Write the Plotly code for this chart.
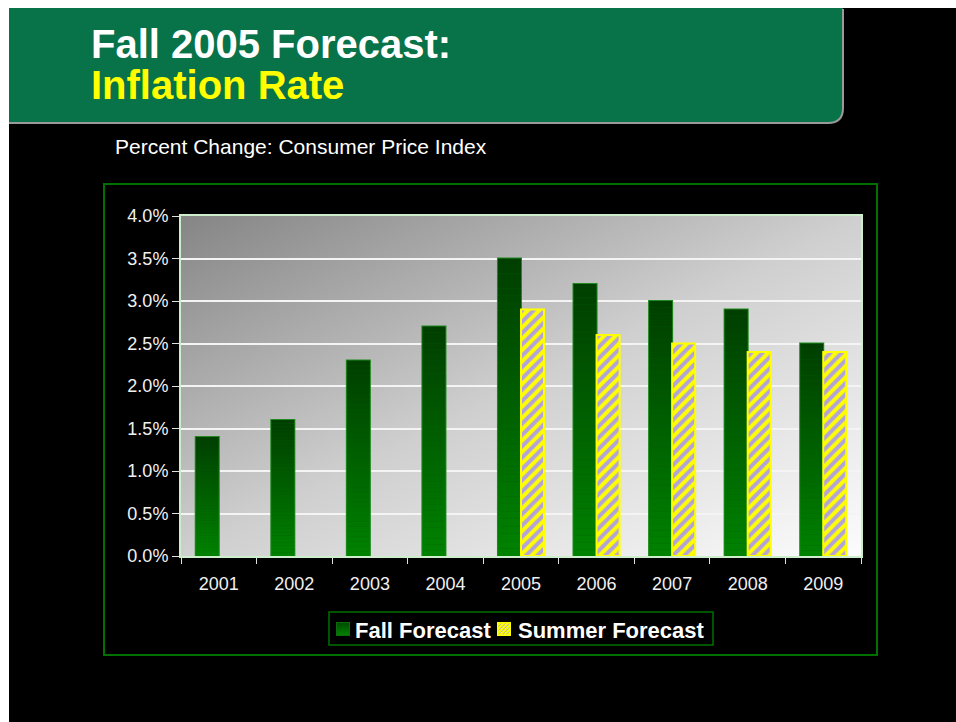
import base64
import plotly.graph_objects as go

# Consumer price index, percent change
years = ["2001", "2002", "2003", "2004", "2005", "2006", "2007", "2008", "2009"]
fall_forecast = [1.4, 1.6, 2.3, 2.7, 3.5, 3.2, 3.0, 2.9, 2.5]
summer_forecast = [None, None, None, None, 2.9, 2.6, 2.5, 2.4, 2.4]
series_names = ["Fall Forecast", "Summer Forecast"]
y_ticks = [0.0, 0.5, 1.0, 1.5, 2.0, 2.5, 3.0, 3.5, 4.0]
y_tick_labels = ["0.0%", "0.5%", "1.0%", "1.5%", "2.0%", "2.5%", "3.0%", "3.5%", "4.0%"]

FONT = "Liberation Sans, Arial, sans-serif"

# Plot-area geometry in page pixels (used for margins and for placing decorations)
W, H = 956, 722
PL, PR, PT, PB = 181, 861, 216, 556


def px(x):
    return (x - PL) / (PR - PL)


def py(y):
    return (PB - y) / (PB - PT)


def lerp_color(c0, c1, t):
    return "rgb({},{},{})".format(*[round(a + (b - a) * t) for a, b in zip(c0, c1)])


def svg_uri(svg):
    return "data:image/svg+xml;base64," + base64.b64encode(svg.encode()).decode()


LAVENDER = "#b2a2dc"
YELLOW = "#ffff00"

fig = go.Figure()

# Fall forecast: solid base bar (carries the outline)
fig.add_trace(go.Bar(
    x=years, y=fall_forecast, name=series_names[0], offsetgroup="fall",
    marker=dict(color="#006000", line=dict(color="#1f8a1f", width=2)),
    showlegend=False, hoverinfo="skip",
))

# Vertical gradient inside each fall bar: bright green at the base, dark at the top
N_SEG = 40
bottom_rgb, top_rgb = (0, 130, 0), (0, 62, 0)
for k in range(N_SEG):
    t = (k + 0.5) / N_SEG
    fig.add_trace(go.Bar(
        x=years,
        y=[v / N_SEG for v in fall_forecast],
        base=[v * k / N_SEG for v in fall_forecast],
        offsetgroup="fall", showlegend=False, hoverinfo="skip",
        marker=dict(color=lerp_color(bottom_rgb, top_rgb, t), line=dict(width=0)),
    ))

# Summer forecast: hatched yellow / lavender bars
fig.add_trace(go.Bar(
    x=years, y=summer_forecast, name=series_names[1], offsetgroup="summer",
    showlegend=False,
    marker=dict(
        color=LAVENDER,
        line=dict(color=YELLOW, width=2),
        pattern=dict(shape="/", fgcolor=YELLOW, bgcolor=LAVENDER, size=8,
                     solidity=0.5, fgopacity=1),
    ),
))

# Grey diagonal gradient behind the bars
bg_svg = (
    '<svg xmlns="http://www.w3.org/2000/svg" width="680" height="340" '
    'viewBox="0 0 680 340" preserveAspectRatio="none">'
    '<defs><linearGradient id="g" x1="0" y1="0" x2="1" y2="1">'
    '<stop offset="0" stop-color="#858585"/>'
    '<stop offset="0.5" stop-color="#cfcfcf"/>'
    '<stop offset="1" stop-color="#fcfcfc"/>'
    '</linearGradient></defs>'
    '<rect width="680" height="340" fill="url(#g)"/></svg>'
)

# Legend swatches
fall_swatch_svg = (
    '<svg xmlns="http://www.w3.org/2000/svg" width="14" height="14" viewBox="0 0 14 14">'
    '<defs><linearGradient id="f" x1="0" y1="0" x2="0" y2="1">'
    '<stop offset="0" stop-color="#004a00"/><stop offset="1" stop-color="#008400"/>'
    '</linearGradient></defs>'
    '<rect x="0.5" y="0.5" width="13" height="13" fill="url(#f)" stroke="#0d6a0d"/></svg>'
)
stripes = "".join(
    f'<line x1="{i - 14}" y1="14" x2="{i}" y2="0" stroke="{YELLOW}" stroke-width="2.2"/>'
    for i in range(0, 32, 4)
)
summer_swatch_svg = (
    '<svg xmlns="http://www.w3.org/2000/svg" width="14" height="14" viewBox="0 0 14 14">'
    f'<rect width="14" height="14" fill="{LAVENDER}"/>{stripes}'
    f'<rect x="0.75" y="0.75" width="12.5" height="12.5" fill="none" stroke="{YELLOW}" stroke-width="1.5"/></svg>'
)

images = [
    dict(source=svg_uri(bg_svg), xref="paper", yref="paper", x=0, y=1,
         sizex=1, sizey=1, xanchor="left", yanchor="top",
         sizing="stretch", layer="below"),
    dict(source=svg_uri(fall_swatch_svg), xref="paper", yref="paper",
         x=px(336), y=py(622), sizex=px(350) - px(336), sizey=py(622) - py(636),
         xanchor="left", yanchor="top", sizing="stretch", layer="above"),
    dict(source=svg_uri(summer_swatch_svg), xref="paper", yref="paper",
         x=px(497), y=py(622), sizex=px(511) - px(497), sizey=py(622) - py(636),
         xanchor="left", yanchor="top", sizing="stretch", layer="above"),
]

shapes = [
    # white page edge
    dict(type="rect", xref="paper", yref="paper", layer="below",
         x0=px(-5), x1=px(9), y0=py(H + 5), y1=py(-5),
         fillcolor="#ffffff", line=dict(width=0)),
    dict(type="rect", xref="paper", yref="paper", layer="below",
         x0=px(-5), x1=px(W + 5), y0=py(8), y1=py(-5),
         fillcolor="#ffffff", line=dict(width=0)),
    # green title banner with rounded lower-right corner
    dict(type="path", xref="paper", yref="paper", layer="below",
         path=(f"M {px(9)},{py(8)} L {px(843)},{py(8)} L {px(843)},{py(108)} "
               f"Q {px(843)},{py(123)} {px(828)},{py(123)} L {px(9)},{py(123)} Z"),
         fillcolor="#087249", line=dict(width=0)),
    # bevel edge of the banner
    dict(type="path", xref="paper", yref="paper", layer="below",
         path=(f"M {px(9)},{py(123)} L {px(828)},{py(123)} "
               f"Q {px(843)},{py(123)} {px(843)},{py(108)} L {px(843)},{py(9)}"),
         line=dict(color="#9a9a9a", width=2)),
    # green chart frame
    dict(type="rect", xref="paper", yref="paper", layer="below",
         x0=px(104), x1=px(877), y0=py(655), y1=py(184),
         line=dict(color="#007000", width=2)),
    # legend box
    dict(type="rect", xref="paper", yref="paper", layer="below",
         x0=px(329), x1=px(713), y0=py(645), y1=py(612),
         fillcolor="#000000", line=dict(color="#007000", width=1.5)),
]

annotations = [
    dict(text="<b>Fall 2005 Forecast:</b>", xref="paper", yref="paper",
         x=px(89), y=py(44), xanchor="left", yanchor="middle", showarrow=False,
         height=38, valign="middle",
         font=dict(family=FONT, size=40, color="#ffffff")),
    dict(text="<b>Inflation Rate</b>", xref="paper", yref="paper",
         x=px(89), y=py(85), xanchor="left", yanchor="middle", showarrow=False,
         height=38, valign="middle",
         font=dict(family=FONT, size=40, color="#ffff00")),
    dict(text="Percent Change: Consumer Price Index", xref="paper", yref="paper",
         x=px(113), y=py(146), xanchor="left", yanchor="middle", showarrow=False,
         font=dict(family=FONT, size=21, color="#ffffff")),
    # legend labels
    dict(text=f"<b>{series_names[0]}</b>", xref="paper", yref="paper",
         x=px(353), y=py(630), xanchor="left", yanchor="middle", showarrow=False,
         font=dict(family=FONT, size=22, color="#ffffff")),
    dict(text=f"<b>{series_names[1]}</b>", xref="paper", yref="paper",
         x=px(516), y=py(630), xanchor="left", yanchor="middle", showarrow=False,
         font=dict(family=FONT, size=22, color="#ffffff")),
]

axis_line = "#cdeecd"
fig.update_layout(
    width=W, height=H,
    margin=dict(l=PL, r=W - PR, t=PT, b=H - PB),
    paper_bgcolor="#000000",
    plot_bgcolor="rgba(0,0,0,0)",
    barmode="group", bargap=0.39, bargroupgap=0.0,
    font=dict(family=FONT, color="#f0f0f0"),
    images=images,
    shapes=shapes,
    annotations=annotations,
    showlegend=False,
    xaxis=dict(
        type="category", range=[-0.5, 8.5], tickson="boundaries",
        ticks="outside", ticklen=6, tickcolor="#e0e0e0", tickwidth=1,
        ticklabelstandoff=10,
        showline=True, linecolor=axis_line, linewidth=2, mirror=True,
        showgrid=False, tickfont=dict(size=18, color="#f0f0f0"),
    ),
    yaxis=dict(
        range=[0, 4.0], tickvals=y_ticks, ticktext=y_tick_labels,
        ticks="outside", ticklen=7, tickcolor="#e0e0e0", tickwidth=1,
        showline=True, linecolor=axis_line, linewidth=2, mirror=True,
        showgrid=True, gridcolor="#f4f4f4", gridwidth=2,
        tickfont=dict(size=18, color="#f0f0f0"), zeroline=False,
    ),
)

fig.write_html("out.html")
